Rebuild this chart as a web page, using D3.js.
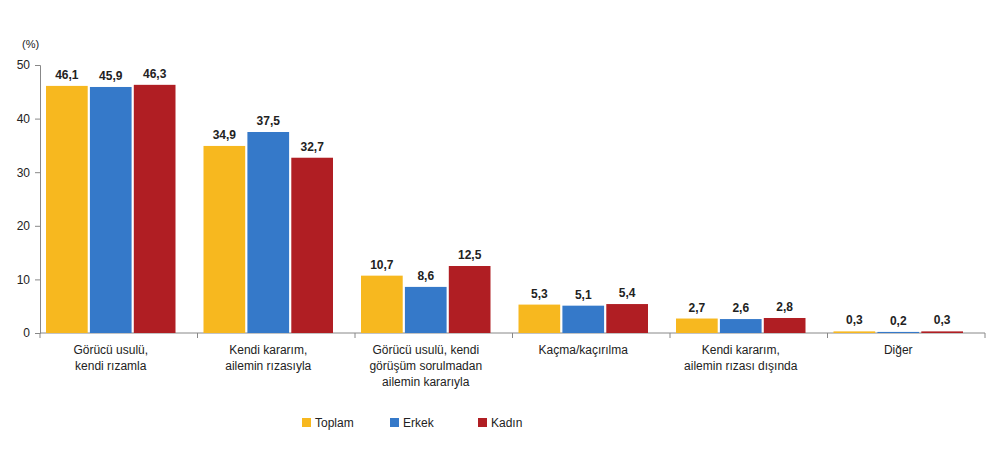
<!DOCTYPE html>
<html lang="tr">
<meta charset="utf-8">
<script src="https://d3js.org/d3.v7.min.js"></script>
<body style="margin:0;background:#fff">
<div id="chart"></div>
<script>
var categories = [
  ["Görücü usulü,", "kendi rızamla"],
  ["Kendi kararım,", "ailemin rızasıyla"],
  ["Görücü usulü, kendi", "görüşüm sorulmadan", "ailemin kararıyla"],
  ["Kaçma/kaçırılma"],
  ["Kendi kararım,", "ailemin rızası dışında"],
  ["Diğer"]
];
var seriesNames = ["Toplam", "Erkek", "Kadın"];
var colors = ["#f7b81f", "#3579c9", "#b01e23"];
var toplam = [46.1, 34.9, 10.7, 5.3, 2.7, 0.3];
var erkek = [45.9, 37.5, 8.6, 5.1, 2.6, 0.2];
var kadin = [46.3, 32.7, 12.5, 5.4, 2.8, 0.3];
var yTicks = [0, 10, 20, 30, 40, 50];

(function() {
var series = [toplam, erkek, kadin];
var width = 1000, height = 471;
var mLeft = 40, mRight = 985, mTop = 65, mBottom = 333;

var svg = d3.select("#chart").append("svg")
  .attr("width", width).attr("height", height)
  .style("font-family", "Liberation Sans, Arial, sans-serif");

var x = d3.scaleBand().domain(d3.range(categories.length)).range([mLeft, mRight]);
var xi = d3.scaleBand().domain(d3.range(3)).range([6, x.bandwidth() - 22]).paddingInner(0.05);
var y = d3.scaleLinear().domain([0, 50]).range([mBottom, mTop]);

// y axis
var yAxis = svg.append("g").attr("transform", "translate(" + mLeft + ",0)")
  .call(d3.axisLeft(y).tickValues(yTicks).tickSize(5).tickPadding(5));
yAxis.selectAll("text").style("font-size", "12px").attr("fill", "#222");
yAxis.selectAll("line,path").attr("stroke", "#888");
svg.append("text").attr("x", 22).attr("y", 48).text("(%)").style("font-size", "11px").attr("fill", "#222");

// x axis
svg.append("line").attr("x1", mLeft).attr("x2", mRight).attr("y1", mBottom).attr("y2", mBottom).attr("stroke", "#888");
d3.range(categories.length + 1).forEach(function(i) {
  var xx = i < categories.length ? x(i) : mRight;
  svg.append("line").attr("x1", xx).attr("x2", xx).attr("y1", mBottom).attr("y2", mBottom + 5).attr("stroke", "#888");
});

var groups = svg.selectAll("g.grp").data(categories).enter().append("g").attr("class", "grp")
  .attr("transform", function(d, i) { return "translate(" + x(i) + ",0)"; });

series.forEach(function(s, si) {
  groups.append("rect")
    .attr("x", xi(si)).attr("width", xi.bandwidth())
    .attr("y", function(d, i) { return y(s[i]); })
    .attr("height", function(d, i) { return mBottom - y(s[i]); })
    .attr("fill", colors[si]);
  groups.append("text")
    .attr("x", xi(si) + xi.bandwidth() / 2)
    .attr("y", function(d, i) { return y(s[i]) - 7; })
    .attr("text-anchor", "middle")
    .style("font-size", "12px").style("font-weight", "bold").attr("fill", "#222")
    .text(function(d, i) { return String(s[i]).replace(".", ","); });
});

groups.each(function(d) {
  var t = d3.select(this).append("text")
    .attr("text-anchor", "middle").style("font-size", "12px").attr("fill", "#222");
  d.forEach(function(line, li) {
    t.append("tspan").attr("x", x.bandwidth() / 2 - 8).attr("y", 354 + li * 16).text(line);
  });
});

// legend
var lx = [302, 390, 478];
seriesNames.forEach(function(n, i) {
  svg.append("rect").attr("x", lx[i]).attr("y", 418).attr("width", 9).attr("height", 9).attr("fill", colors[i]);
  svg.append("text").attr("x", lx[i] + 13).attr("y", 427).text(n).style("font-size", "12px").attr("fill", "#222");
});
})();
</script>
</body>
</html>
